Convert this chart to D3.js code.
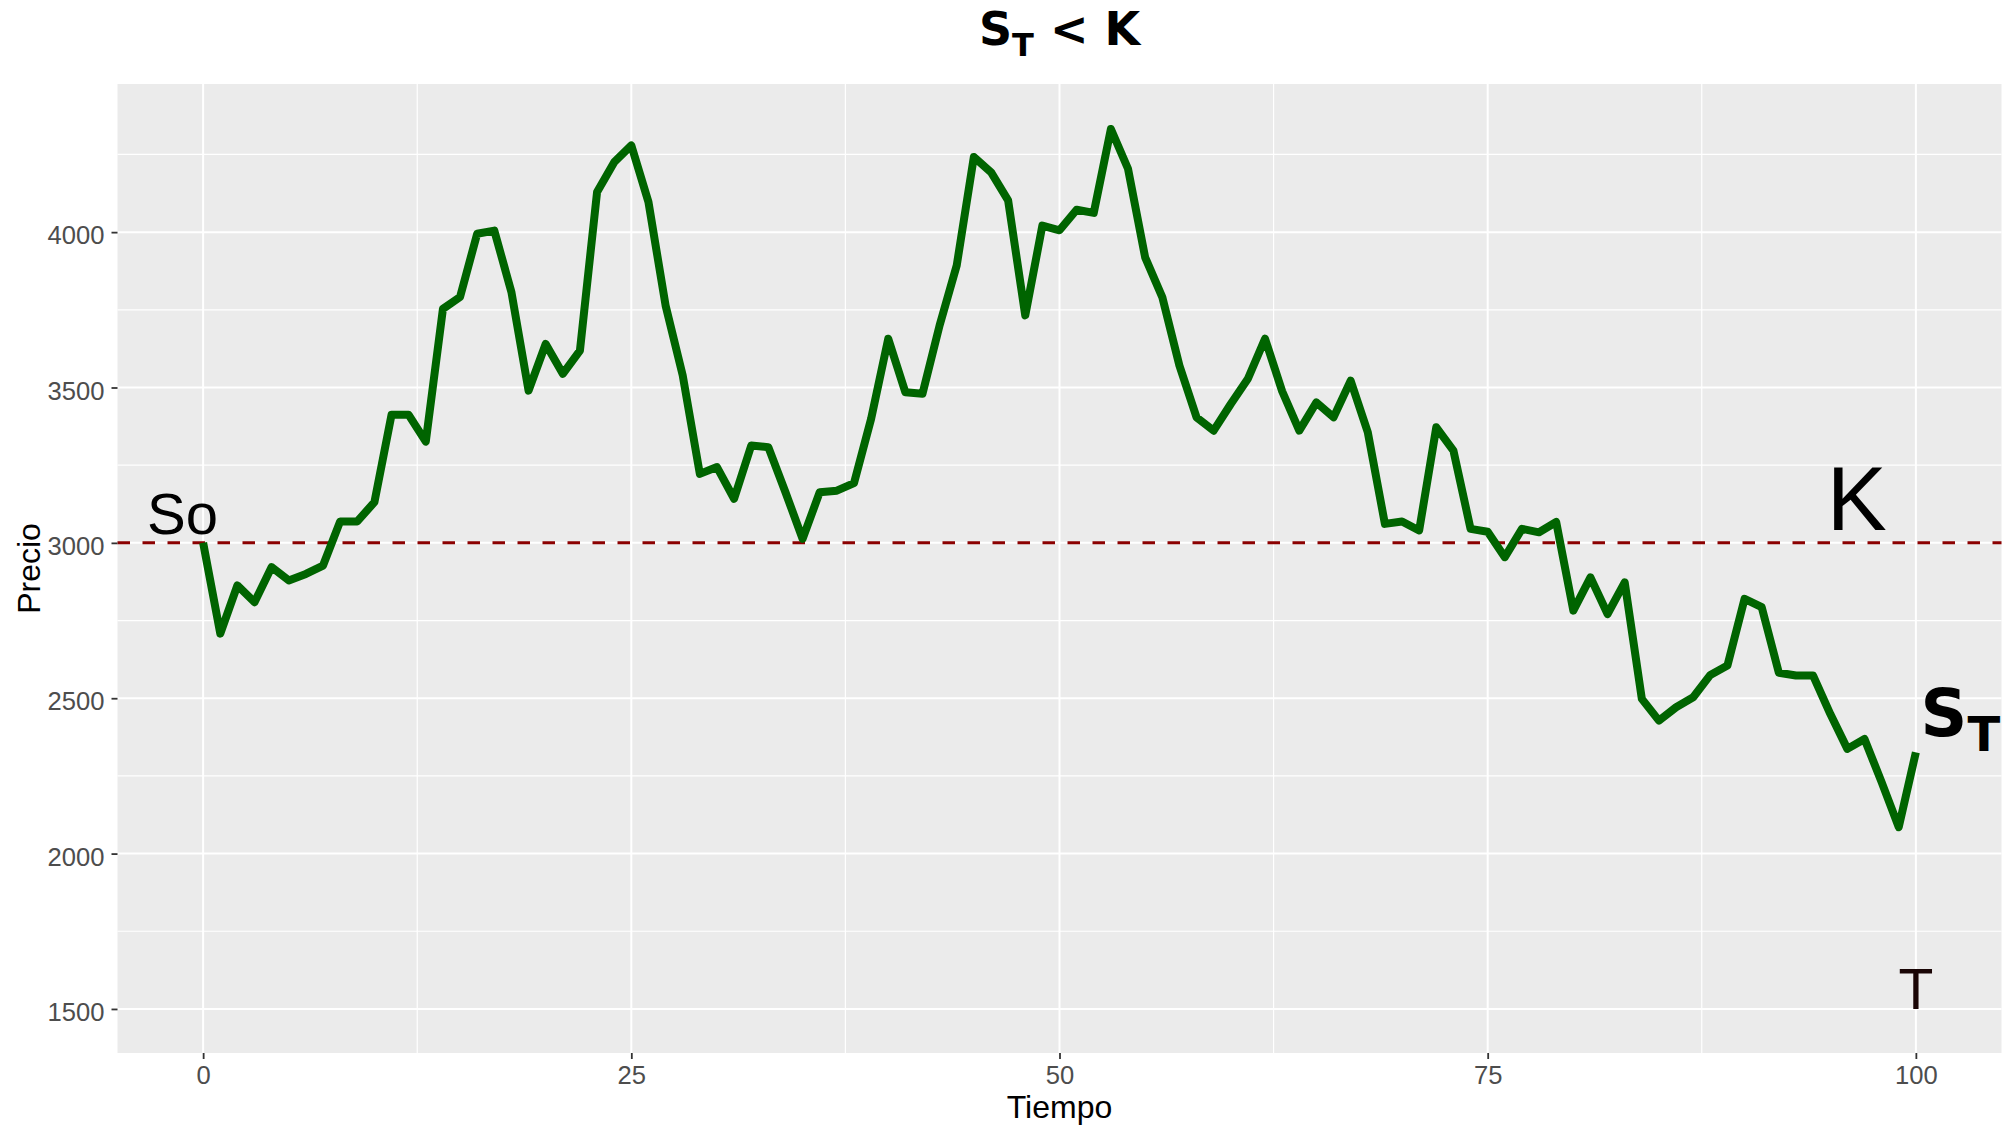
<!DOCTYPE html>
<html>
<head>
<meta charset="utf-8">
<script src="https://cdn.jsdelivr.net/npm/d3@7"></script>
<style>
  body { margin: 0; background: #fff; }
  svg { display: block; }
  .tick text { font-family: "Liberation Sans", Arial, sans-serif; }
</style>
</head>
<body>
<svg id="chart" width="2003" height="1128"></svg>
<script>
// tiempo 0..100, precio simulado
var tiempo = d3.range(0, 101);
var precio = [
  3000, 2708, 2863, 2809, 2922, 2879, 2900, 2927, 3069, 3069,
  3131, 3412, 3412, 3326, 3753, 3791, 3995, 4005, 3807, 3490,
  3640, 3544, 3619, 4129, 4225, 4279, 4097, 3764, 3539, 3222,
  3244, 3142, 3313, 3308, 3163, 3013, 3163, 3168, 3192, 3399,
  3657, 3485, 3480, 3700, 3893, 4242, 4193, 4102, 3732, 4021,
  4006, 4072, 4062, 4332, 4204, 3919, 3791, 3571, 3404, 3361,
  3447, 3528, 3657, 3488, 3361, 3452, 3404, 3522, 3356, 3061,
  3069, 3040, 3372, 3297, 3045, 3036, 2954, 3045, 3034, 3067,
  2782, 2889, 2771, 2873, 2498, 2428, 2471, 2503, 2575, 2605,
  2820, 2793, 2582, 2573, 2573, 2450, 2337, 2369, 2230, 2085,
  2326
];
var strike = 3000;
var xTicks = [0, 25, 50, 75, 100];
var yTicks = [1500, 2000, 2500, 3000, 3500, 4000];
var xMinor = [12.5, 37.5, 62.5, 87.5];
var yMinor = [1750, 2250, 2750, 3250, 3750, 4250];
// limits of the data shown (ggplot adds 5% each side)
var xLimits = [0, 100];
var yLimits = [1500, 4335];

var svg = d3.select("#chart");
var pLeft = 117.5, pRight = 2001.5, pTop = 84, pBottom = 1053;

function expand(l) {
  var d = (l[1] - l[0]) * 0.05;
  return [l[0] - d, l[1] + d];
}

var x = d3.scaleLinear().domain(expand(xLimits)).range([pLeft, pRight]);
var y = d3.scaleLinear().domain(expand(yLimits)).range([pBottom, pTop]);

// panel
svg.append("rect")
  .attr("x", pLeft).attr("y", pTop)
  .attr("width", pRight - pLeft).attr("height", pBottom - pTop)
  .attr("fill", "#EBEBEB");

var grid = svg.append("g");
grid.selectAll(".ymin").data(yMinor).enter().append("line")
  .attr("x1", pLeft).attr("x2", pRight)
  .attr("y1", function(d) { return y(d); }).attr("y2", function(d) { return y(d); })
  .attr("stroke", "#fff").attr("stroke-width", 1.2);
grid.selectAll(".xmin").data(xMinor).enter().append("line")
  .attr("y1", pTop).attr("y2", pBottom)
  .attr("x1", function(d) { return x(d); }).attr("x2", function(d) { return x(d); })
  .attr("stroke", "#fff").attr("stroke-width", 1.2);
grid.selectAll(".ymaj").data(yTicks).enter().append("line")
  .attr("x1", pLeft).attr("x2", pRight)
  .attr("y1", function(d) { return y(d); }).attr("y2", function(d) { return y(d); })
  .attr("stroke", "#fff").attr("stroke-width", 2);
grid.selectAll(".xmaj").data(xTicks).enter().append("line")
  .attr("y1", pTop).attr("y2", pBottom)
  .attr("x1", function(d) { return x(d); }).attr("x2", function(d) { return x(d); })
  .attr("stroke", "#fff").attr("stroke-width", 2);

// K line
svg.append("line")
  .attr("x1", pLeft).attr("x2", pRight)
  .attr("y1", y(strike)).attr("y2", y(strike))
  .attr("stroke", "#8B0000").attr("stroke-width", 3)
  .attr("stroke-dasharray", "12.5,12.5");

// price path
var line = d3.line()
  .x(function(d, i) { return x(tiempo[i]); })
  .y(function(d) { return y(d); });

svg.append("path")
  .datum(precio)
  .attr("d", line)
  .attr("fill", "none")
  .attr("stroke", "#006400")
  .attr("stroke-width", 8)
  .attr("stroke-linejoin", "round")
  .attr("stroke-linecap", "butt");

// axes
var xAxis = svg.append("g")
  .attr("transform", "translate(0," + pBottom + ")")
  .call(d3.axisBottom(x).tickValues(xTicks).tickSize(6).tickPadding(7));
var yAxis = svg.append("g")
  .attr("transform", "translate(" + pLeft + ",0)")
  .call(d3.axisLeft(y).tickValues(yTicks).tickSize(6).tickPadding(7).tickFormat(d3.format("d")));

[xAxis, yAxis].forEach(function(a) {
  a.select(".domain").remove();
  a.selectAll(".tick line").attr("stroke", "#333").attr("stroke-width", 1.8);
  a.selectAll(".tick text").attr("fill", "#4D4D4D").style("font-size", "25.6px");
});
xAxis.selectAll(".tick text").attr("dy", "0.71em");
yAxis.selectAll(".tick text").attr("dy", "0.45em");

// axis titles
svg.append("text")
  .attr("x", (pLeft + pRight) / 2).attr("y", 1118)
  .attr("text-anchor", "middle")
  .style("font-family", "Liberation Sans, Arial, sans-serif")
  .style("font-size", "32px")
  .text("Tiempo");

svg.append("text")
  .attr("transform", "translate(40," + (pTop + pBottom) / 2 + ") rotate(-90)")
  .attr("text-anchor", "middle")
  .style("font-family", "Liberation Sans, Arial, sans-serif")
  .style("font-size", "32px")
  .text("Precio");

// title S_T < K
var title = svg.append("text")
  .attr("x", (pLeft + pRight) / 2).attr("y", 45)
  .attr("text-anchor", "middle")
  .style("font-family", "DejaVu Sans, Verdana, sans-serif")
  .style("font-weight", "bold")
  .style("font-size", "46px");
title.append("tspan").text("S");
title.append("tspan").attr("dy", 11).style("font-size", "32px").text("T");
title.append("tspan").attr("dy", -11).text(" < K");

// annotations
var plain = "Liberation Sans, Arial, sans-serif";
svg.append("text")
  .attr("x", x(-1.2)).attr("y", y(3029))
  .attr("text-anchor", "middle")
  .style("font-family", plain).style("font-size", "58px")
  .text("So");

svg.append("text")
  .attr("x", x(96.55)).attr("y", y(3042))
  .attr("text-anchor", "middle")
  .style("font-family", plain).style("font-size", "90px")
  .text("K");

svg.append("text")
  .attr("x", x(100)).attr("y", y(1500))
  .attr("text-anchor", "middle")
  .attr("fill", "#1a0505")
  .style("font-family", plain).style("font-size", "57px")
  .text("T");

var st = svg.append("text")
  .attr("x", x(102.6)).attr("y", y(2380))
  .attr("text-anchor", "middle")
  .style("font-family", "DejaVu Sans, Verdana, sans-serif")
  .style("font-weight", "bold")
  .style("font-size", "65px");
st.append("tspan").text("S");
st.append("tspan").attr("dy", 15).style("font-size", "48px").text("T");
</script>
</body>
</html>
